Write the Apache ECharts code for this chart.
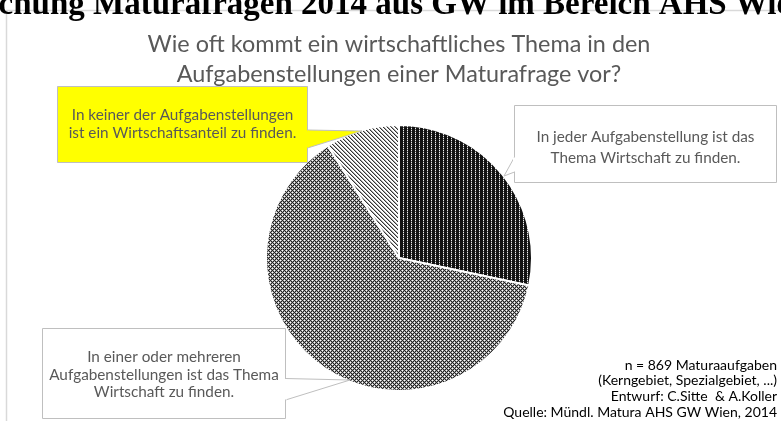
<!DOCTYPE html>
<html>
<head>
<meta charset="utf-8">
<script src="https://cdn.jsdelivr.net/npm/echarts@6/dist/echarts.min.js"></script>
<style>
  html, body { margin: 0; padding: 0; background: #fff; }
  #main { width: 781px; height: 421px; }
</style>
</head>
<body>
<div id="main"></div>
<script>
// data
const categories = [
    'In jeder Aufgabenstellung ist das Thema Wirtschaft zu finden.',
    'In einer oder mehreren Aufgabenstellungen ist das Thema Wirtschaft zu finden.',
    'In keiner der Aufgabenstellungen ist ein Wirtschaftsanteil zu finden.'
];
const values = [246, 545, 78];   // n = 869
const calloutText = [
    'In jeder Aufgabenstellung ist das\nThema Wirtschaft zu finden.',
    'In einer oder mehreren\nAufgabenstellungen ist das Thema\nWirtschaft zu finden.',
    'In keiner der Aufgabenstellungen\nist ein Wirtschaftsanteil zu finden.'
];
const titleLines = ['Wie oft kommt ein wirtschaftliches Thema in den', 'Aufgabenstellungen einer Maturafrage vor?'];
const headlineLead = 'Untersuchung ';
const headline = 'Untersuchung Maturafragen 2014 aus GW im Bereich AHS Wien';
const sourceLines = [
    'n = 869 Maturaaufgaben',
    '(Kerngebiet, Spezialgebiet, ...)',
    'Entwurf: C.Sitte  & A.Koller',
    'Quelle: Mündl. Matura AHS GW Wien, 2014'
];

const FONT = 'Lato, "Open Sans", sans-serif';
const GREY = '#595959';
const HEAD_FONT = 'bold 33px "Liberation Serif", serif';

// small pixel patterns like the excel pattern fills
function makePattern(w, h, bg, pixels) {
    let c = document.createElement('canvas');
    c.width = w; c.height = h;
    let ctx = c.getContext('2d');
    ctx.fillStyle = bg;
    ctx.fillRect(0, 0, w, h);
    pixels.forEach(p => {
        ctx.fillStyle = p[2];
        ctx.fillRect(p[0], p[1], 1, 1);
    });
    return { image: c, repeat: 'repeat' };
}
// dark with dotted vertical light lines
let patDark = makePattern(4, 2, '#111', [[3, 0, '#eee'], [3, 1, '#555']]);
// grey checker with white dots
let patGrey = makePattern(4, 4, '#222', [
    [1, 0, '#aaa'], [3, 0, '#aaa'], [0, 1, '#888'], [2, 1, '#aaa'],
    [1, 2, '#aaa'], [3, 2, '#888'], [0, 3, '#aaa'], [2, 3, '#aaa'],
    [0, 0, '#fff'], [2, 2, '#fff']
]);
// white with dark diagonal "\" hatching
let patDiag = makePattern(4, 4, '#fff', [
    [0, 0, '#333'], [1, 1, '#333'], [2, 2, '#333'], [3, 3, '#333'],
    [1, 0, '#aaa'], [2, 1, '#aaa'], [3, 2, '#aaa'], [0, 3, '#aaa']
]);

// callout bubble: box + pointer wedge
function callout(box, wedge, fill, text, lineHeight, dy) {
    let rightSide = wedge[0][0] > box[0] + 1;
    return [
        {
            type: 'polygon',
            shape: { points: wedge },
            style: { fill: fill, stroke: '#bfbfbf', lineWidth: 1 },
            z: 10
        },
        {
            type: 'rect',
            shape: { x: box[0], y: box[1], width: box[2], height: box[3] },
            style: { fill: fill, stroke: '#bfbfbf', lineWidth: 1 },
            z: 11
        },
        {
            // cover the seam between box and wedge
            type: 'rect',
            shape: {
                x: rightSide ? box[0] + box[2] - 1.5 : box[0] - 1.5,
                y: wedge[0][1] + 0.5, width: 3, height: wedge[2][1] - wedge[0][1] - 1
            },
            style: { fill: fill },
            z: 12
        },
        {
            type: 'text',
            x: box[0] + box[2] / 2,
            y: box[1] + box[3] / 2 + dy,
            style: {
                text: text, fill: GREY, font: '15.3px ' + FONT,
                align: 'center', verticalAlign: 'middle', lineHeight: lineHeight
            },
            z: 13
        }
    ];
}

// place the cut-off headline so that "Maturafragen" starts at x = 93
let mctx = document.createElement('canvas').getContext('2d');
mctx.font = HEAD_FONT;
let headX = 93 - mctx.measureText(headlineLead).width;

let graphics = [
    {
        type: 'rect',
        shape: { x: 6.5, y: 10.5, width: 900, height: 600 },
        style: { fill: 'none', stroke: '#d9d9d9', lineWidth: 1.5 },
        z: 1
    },
    {
        type: 'text', x: headX, y: 22,
        style: { text: headline, fill: '#000', font: HEAD_FONT, verticalAlign: 'bottom' },
        z: 20
    },
    {
        type: 'text', x: 399, y: 44,
        style: { text: titleLines[0], fill: GREY, font: '23.4px ' + FONT, align: 'center', verticalAlign: 'middle' },
        z: 20
    },
    {
        type: 'text', x: 399, y: 74,
        style: { text: titleLines[1], fill: GREY, font: '23.4px ' + FONT, align: 'center', verticalAlign: 'middle' },
        z: 20
    }
];
sourceLines.forEach((t, i) => {
    graphics.push({
        type: 'text', x: 777, y: 365 + i * 15.7,
        style: { text: t, fill: '#000', font: '14px ' + FONT, align: 'right', verticalAlign: 'middle' },
        z: 20
    });
});
graphics = graphics
    .concat(callout([514.5, 105.5, 262, 77], [[514.5, 157], [504, 176], [514.5, 172]], '#fff', calloutText[0], 21, 4))
    .concat(callout([42.5, 328.5, 243, 90], [[285.5, 378.5], [350, 380], [285.5, 400]], '#fff', calloutText[1], 17.5, 1.5))
    .concat(callout([57.5, 86.5, 250, 76], [[307.5, 130], [362, 131], [307.5, 148]], '#ffff00', calloutText[2], 18, 0));

let myChart,
option = {
    animation: false,
    backgroundColor: '#fff',
    series: [
        {
            type: 'pie',
            center: [399, 258],
            radius: 133,
            startAngle: 90,
            clockwise: true,
            label: { show: false },
            labelLine: { show: false },
            emphasis: { disabled: true },
            itemStyle: { borderColor: '#fff', borderWidth: 2 },
            data: [
                { name: categories[0], value: values[0], itemStyle: { color: patDark } },
                { name: categories[1], value: values[1], itemStyle: { color: patGrey } },
                { name: categories[2], value: values[2], itemStyle: { color: patDiag } }
            ]
        }
    ],
    graphic: graphics
};

myChart = echarts.init(document.getElementById('main'), null, { renderer: 'canvas' });
myChart.setOption(option);
</script>
</body>
</html>
